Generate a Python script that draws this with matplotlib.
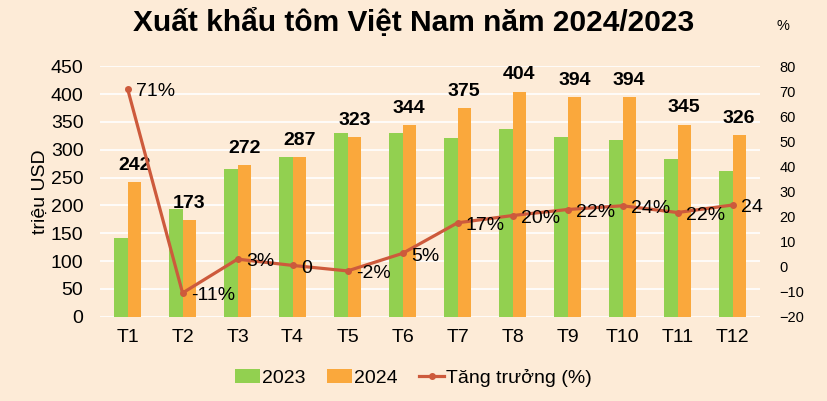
import numpy as np
import matplotlib
matplotlib.use("Agg")
import matplotlib.pyplot as plt

plt.rcParams['font.family'] = ['Liberation Sans', 'DejaVu Sans']

months = ['T1', 'T2', 'T3', 'T4', 'T5', 'T6', 'T7', 'T8', 'T9', 'T10', 'T11', 'T12']
val_2023 = [142, 193, 266, 287, 330, 330, 321, 338, 323, 318, 284, 262]
val_2024 = [242, 173, 272, 287, 323, 344, 375, 404, 394, 394, 345, 326]
growth = [71, -10.5, 3, 0.5, -1.7, 5.3, 17.5, 20.4, 22.8, 24.3, 21.6, 24.6]
growth_lbl = ['71%', '-11%', '3%', '0', '-2%', '5%', '17%', '20%', '22%', '24%', '22%', '24']

bg = '#FDEBD7'
green = '#92D050'
orange = '#FAA83C'
red = '#CD5A3C'

fig = plt.figure(figsize=(8.27, 4.01), dpi=100, facecolor=bg)
ax = fig.add_axes([0.121, 0.210, 0.798, 0.625])
ax.set_facecolor(bg)

x = np.arange(len(months))
w = 0.245
b1 = ax.bar(x - w/2, val_2023, w, color=green, label='2023', zorder=2)
b2 = ax.bar(x + w/2, val_2024, w, color=orange, label='2024', zorder=2)

# nhãn giá trị 2024
for xi, v in zip(x, val_2024):
    ax.annotate(str(v), (xi + w/2, v), xytext=(0, 6), textcoords='offset points',
                ha='center', va='bottom', fontsize=14, fontweight='bold', zorder=5)

ax.set_ylim(0, 450)
ax.set_yticks(range(0, 451, 50))
ax.set_xlim(-0.5, 11.5)
ax.set_xticks(x)
ax.set_xticklabels(months)
ax.yaxis.grid(True, color='white', linewidth=1.2, zorder=0)
ax.set_axisbelow(True)
for s in ax.spines.values():
    s.set_visible(False)
ax.tick_params(axis='y', length=0, pad=12, labelsize=14)
ax.tick_params(axis='x', length=0, pad=9, labelsize=14)
ax.set_ylabel('triệu USD', fontsize=14, labelpad=1)

ax2 = ax.twinx()
ln, = ax2.plot(x, growth, color=red, linewidth=2.3, marker='o', markersize=4,
               label='Tăng trưởng (%)', zorder=4)
ax2.set_ylim(-20, 80)
ax2.set_yticks(range(-20, 81, 10))
for s in ax2.spines.values():
    s.set_visible(False)
ax2.tick_params(axis='y', length=0, pad=14, labelsize=10.5)
for xi, g, t in zip(x, growth, growth_lbl):
    ax2.annotate(t, (xi, g), xytext=(6, -2), textcoords='offset points',
                 ha='left', va='center', fontsize=14, zorder=6)

fig.text(0.947, 0.935, '%', fontsize=10.5, ha='center', va='center')
fig.text(0.5, 0.943, 'Xuất khẩu tôm Việt Nam năm 2024/2023', fontsize=21.5,
         fontweight='bold', ha='center', va='center')

fig.legend([b1, b2, ln], ['2023', '2024', 'Tăng trưởng (%)'], loc='center',
           bbox_to_anchor=(0.5, 0.058), ncol=3, frameon=False, fontsize=14,
           handlelength=1.3, handletextpad=0.1, columnspacing=1.1)

fig.savefig('out.png', dpi=100, facecolor=bg)
